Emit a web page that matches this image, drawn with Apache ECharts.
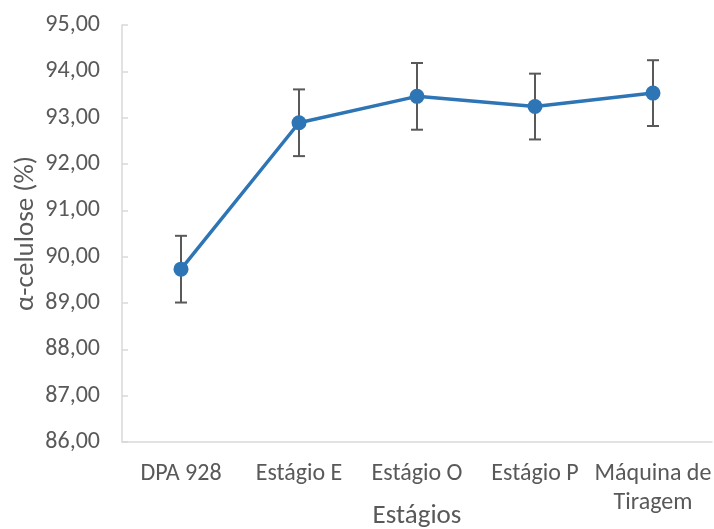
<!DOCTYPE html>
<html>
<head>
<meta charset="utf-8">
<script src="https://cdn.jsdelivr.net/npm/echarts@6/dist/echarts.min.js"></script>
<style>
  html, body { margin: 0; padding: 0; background: #fff; }
  #chart { width: 714px; height: 529px; }
</style>
</head>
<body>
<div id="chart"></div>
<script>
// Alpha-cellulose content by bleaching stage, mean ± deviation
const categories = ['DPA 928', 'Estágio E', 'Estágio O', 'Estágio P', 'Máquina de\nTiragem'];
const alphaCellulose = [89.73, 92.89, 93.46, 93.24, 93.53];
const deviation = [0.72, 0.72, 0.72, 0.71, 0.71];

const textColor = '#595959';
const axisColor = '#D9D9D9';
const lineColor = '#2E75B6';
const fontFamily = 'Carlito, Lato, Calibri, sans-serif';

const errorData = alphaCellulose.map((v, i) => [i, v - deviation[i], v + deviation[i]]);

const chart = echarts.init(document.getElementById('chart'));
chart.setOption({
  animation: false,
  grid: { left: 122, right: 2, top: 25, bottom: 87, outerBoundsMode: 'none', containLabel: false },
  xAxis: {
    type: 'category',
    data: categories,
    boundaryGap: true,
    name: 'Estágios',
    nameLocation: 'middle',
    nameGap: 61,
    nameMoveOverlap: false,
    nameTextStyle: { color: textColor, fontSize: 27, fontFamily },
    axisLine: { lineStyle: { color: axisColor, width: 1.5 } },
    axisTick: { alignWithLabel: true, inside: true, length: 6, lineStyle: { color: axisColor, width: 1.5 } },
    axisLabel: { color: textColor, fontSize: 24, fontFamily, margin: 17, interval: 0, lineHeight: 29 }
  },
  yAxis: {
    type: 'value',
    min: 86,
    max: 95,
    interval: 1,
    name: 'α-celulose (%)',
    nameLocation: 'middle',
    nameGap: 82,
    nameMoveOverlap: false,
    nameTextStyle: { color: textColor, fontSize: 27, fontFamily },
    axisLine: { show: true, lineStyle: { color: axisColor, width: 1.5 } },
    axisTick: { show: true, inside: true, length: 6, lineStyle: { color: axisColor, width: 1.5 } },
    splitLine: { show: false },
    axisLabel: {
      color: textColor, fontSize: 24, fontFamily, margin: 22,
      formatter: v => v.toFixed(2).replace('.', ',')
    }
  },
  series: [
    {
      type: 'custom',
      z: 1,
      data: errorData,
      renderItem: (params, api) => {
        const x = api.value(0);
        const lo = api.coord([x, api.value(1)]);
        const hi = api.coord([x, api.value(2)]);
        const cap = 6;
        const style = { stroke: '#595959', lineWidth: 2 };
        return {
          type: 'group',
          children: [
            { type: 'line', shape: { x1: lo[0], y1: lo[1], x2: hi[0], y2: hi[1] }, style },
            { type: 'line', shape: { x1: hi[0] - cap, y1: hi[1], x2: hi[0] + cap, y2: hi[1] }, style },
            { type: 'line', shape: { x1: lo[0] - cap, y1: lo[1], x2: lo[0] + cap, y2: lo[1] }, style }
          ]
        };
      }
    },
    {
      type: 'line',
      z: 2,
      data: alphaCellulose,
      symbol: 'circle',
      symbolSize: 15,
      itemStyle: { color: lineColor },
      lineStyle: { color: lineColor, width: 3.5 }
    }
  ]
});
</script>
</body>
</html>
